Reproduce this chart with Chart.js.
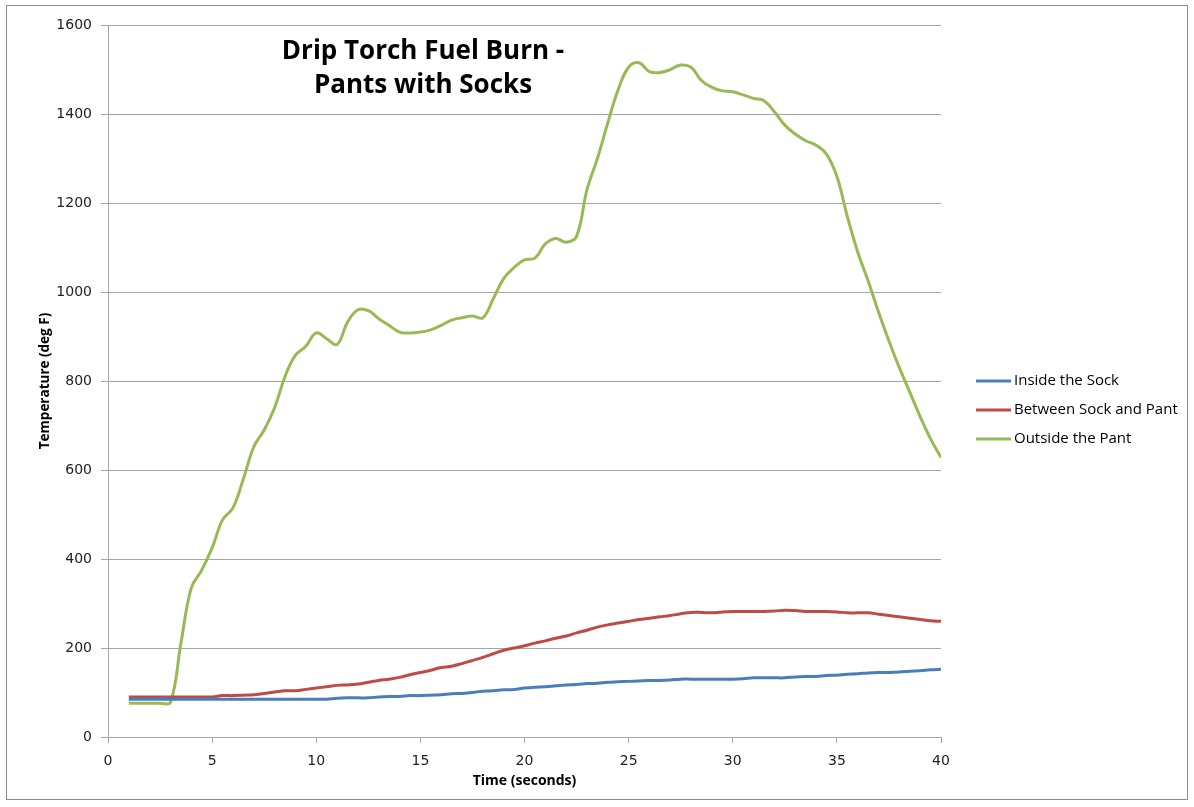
<!DOCTYPE html>
<html>
<head>
<meta charset="utf-8">
<title>Drip Torch Fuel Burn - Pants with Socks</title>
<script src="https://cdn.jsdelivr.net/npm/chart.js@4/dist/chart.umd.min.js"></script>
<style>
  html, body { margin: 0; padding: 0; background: #fff; }
  #wrap { width: 1194px; height: 807px; position: relative; }
</style>
</head>
<body>
<div id="wrap"><canvas id="chart"></canvas></div>
<script>
"use strict"

// time in seconds, one reading every half second
const times = [
  1, 1.5, 2, 2.5, 3, 3.5, 4, 4.5, 5, 5.5, 6, 6.5, 7, 7.5, 8, 8.5, 9, 9.5, 10, 10.5,
  11, 11.5, 12, 12.5, 13, 13.5, 14, 14.5, 15, 15.5, 16, 16.5, 17, 17.5, 18, 18.5, 19, 19.5, 20, 20.5,
  21, 21.5, 22, 22.5, 23, 23.5, 24, 24.5, 25, 25.5, 26, 26.5, 27, 27.5, 28, 28.5, 29, 29.5, 30, 30.5,
  31, 31.5, 32, 32.5, 33, 33.5, 34, 34.5, 35, 35.5, 36, 36.5, 37, 37.5, 38, 38.5, 39, 39.5, 40
];

const insideSock = [
  85, 85, 85, 85, 85, 85, 85, 85, 85, 85, 85, 85, 85, 85, 85, 85, 85, 85, 85, 85,
  87, 88, 88, 88, 90, 91, 91, 93, 93, 94, 95, 97, 98, 100, 103, 104, 106, 107, 110, 112,
  113, 115, 117, 118, 120, 121, 123, 124, 125, 126, 127, 127, 128, 130, 130, 130, 130, 130, 130, 131,
  133, 133, 133, 133, 135, 136, 136, 138, 139, 141, 142, 144, 145, 145, 146, 148, 149, 151, 152
];

const betweenSockPant = [
  90, 90, 90, 90, 90, 90, 90, 90, 90, 93, 93, 94, 95, 98, 101, 104, 104, 107, 110, 113,
  116, 117, 119, 123, 127, 130, 134, 140, 145, 150, 156, 159, 165, 172, 179, 187, 195, 200, 205, 211,
  216, 222, 227, 234, 240, 247, 252, 256, 260, 264, 267, 270, 273, 277, 280, 280, 279, 281, 282, 282,
  282, 282, 283, 285, 284, 282, 282, 282, 281, 279, 279, 279, 276, 273, 270, 267, 264, 261, 260
];

const outsidePant = [
  76, 76, 76, 76, 78, 210, 335, 375, 425, 488, 515, 580, 652, 690, 740, 810, 858, 878, 908, 895,
  882, 932, 960, 958, 940, 925, 910, 908, 910, 915, 925, 937, 942, 946, 942, 985, 1030, 1055, 1072, 1076,
  1108, 1120, 1112, 1125, 1230, 1300, 1380, 1455, 1505, 1515, 1495, 1493, 1500, 1510, 1505, 1475, 1460, 1452, 1450, 1443,
  1435, 1430, 1405, 1375, 1355, 1340, 1330, 1310, 1260, 1170, 1090, 1025, 955, 890, 830, 775, 720, 670, 628
];

const seriesNames = ["Inside the Sock", "Between Sock and Pant", "Outside the Pant"];
const seriesColors = ["#4a7ebb", "#be4b48", "#98b954"];
const titleLines = ["Drip Torch Fuel Burn -", "Pants with Socks"];

function toPoints(values) {
  return times.map((t, i) => ({ x: t, y: values[i] }));
}

const gridGray = "#a6a6a6";
const tickFont = { family: "DejaVu Sans", size: 14 };
const textFont = "'Open Sans', 'Liberation Sans', sans-serif";

// border, title and legend drawn straight onto the canvas
const decorations = {
  id: "decorations",
  beforeDraw(chart) {
    const ctx = chart.ctx;
    ctx.save();
    ctx.fillStyle = "#fff";
    ctx.fillRect(0, 0, chart.width, chart.height);
    ctx.strokeStyle = "#8c8c8c";
    ctx.lineWidth = 1;
    ctx.strokeRect(6.5, 5.5, 1181, 794);
    ctx.restore();
  },
  afterDraw(chart) {
    const ctx = chart.ctx;
    ctx.save();
    ctx.fillStyle = "#000";
    ctx.textAlign = "center";
    ctx.textBaseline = "middle";
    ctx.font = "bold 26px " + textFont;
    ctx.fillText(titleLines[0], 423, 52);
    ctx.fillText(titleLines[1], 423, 86);

    ctx.textAlign = "left";
    ctx.font = "15px " + textFont;
    chart.data.datasets.forEach((ds, i) => {
      const y = 381 + i * 29;
      ctx.strokeStyle = ds.borderColor;
      ctx.lineWidth = 3;
      ctx.beginPath();
      ctx.moveTo(976, y);
      ctx.lineTo(1011, y);
      ctx.stroke();
      ctx.fillStyle = "#000";
      ctx.fillText(ds.label, 1014, y);
    });
    ctx.restore();
  }
};

const data = {
  datasets: [insideSock, betweenSockPant, outsidePant].map((vals, i) => ({
    label: seriesNames[i],
    data: toPoints(vals),
    borderColor: seriesColors[i],
    backgroundColor: seriesColors[i],
    borderWidth: 3,
    pointRadius: 0,
    tension: 0.4,
    fill: false
  }))
};

const config = {
  type: "line",
  data: data,
  options: {
    responsive: true,
    maintainAspectRatio: false,
    animation: false,
    devicePixelRatio: 1,
    layout: { padding: { left: 33, right: 253, top: 25, bottom: 14 } },
    plugins: {
      legend: { display: false },
      title: { display: false },
      tooltip: { enabled: false }
    },
    scales: {
      x: {
        type: "linear",
        min: 0,
        max: 40,
        afterFit(scale) { scale.height = 56; },
        ticks: { stepSize: 5, color: "#222", font: tickFont, padding: 10, maxRotation: 0 },
        grid: { drawOnChartArea: false, drawTicks: true, tickLength: 6, color: gridGray },
        border: { color: gridGray },
        title: {
          display: true,
          text: "Time (seconds)",
          color: "#000",
          font: { family: "Open Sans", size: 14, weight: "bold" },
          padding: { top: 2 }
        }
      },
      y: {
        min: 0,
        max: 1600,
        afterFit(scale) { scale.width = 75; },
        ticks: {
          stepSize: 200,
          color: "#222",
          font: tickFont,
          padding: 9,
          callback: (v) => String(v)
        },
        grid: { color: gridGray, tickLength: 7 },
        border: { color: gridGray },
        title: {
          display: true,
          text: "Temperature (deg F)",
          color: "#000",
          font: { family: "Open Sans", size: 13.5, weight: "bold" },
          padding: { bottom: 2 }
        }
      }
    }
  },
  plugins: [decorations]
};

const canvas = document.querySelector("#chart");
const chart = new Chart(canvas, config);
</script>
</body>
</html>
